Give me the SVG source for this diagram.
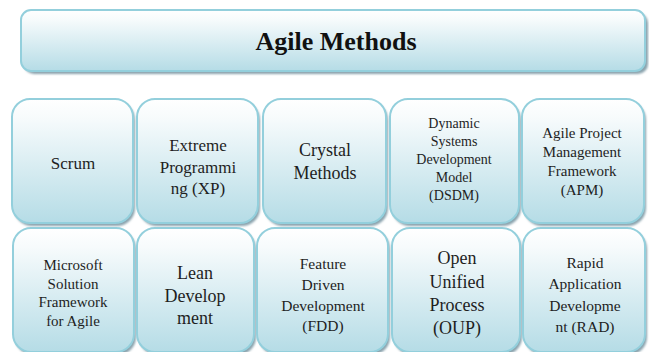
<svg xmlns="http://www.w3.org/2000/svg" width="649" height="352" viewBox="0 0 649 352">
<defs>
<linearGradient id="g" x1="0" y1="0" x2="0" y2="1">
<stop offset="0" stop-color="#ffffff"/>
<stop offset="0.15" stop-color="#f7fbfc"/>
<stop offset="1" stop-color="#b5dce6"/>
</linearGradient>
<filter id="blur" x="-5%" y="-5%" width="110%" height="115%"><feGaussianBlur stdDeviation="1"/></filter>
</defs>
<style>
.box{fill:url(#g);stroke:#93cfdc;stroke-width:2}
.sh{fill:#8aa3ad;filter:url(#blur)}
.t{fill:#1e1e1e;text-anchor:middle;font-family:"Liberation Serif","Times New Roman","DejaVu Serif",serif}
.title{font-family:"Liberation Serif","Times New Roman","DejaVu Serif",serif;font-weight:bold;font-size:26px;fill:#111;text-anchor:middle}
</style>
<rect width="649" height="352" fill="#ffffff"/>
<g id="title">
<rect class="sh" x="24" y="13" width="624" height="61" rx="10"/>
<rect class="box" x="21" y="10" width="624" height="61" rx="10"/>
<text class="title" x="336" y="50">Agile Methods</text>
</g>
<g id="connectors"></g>
<g id="scrum">
<rect class="sh" x="14" y="102" width="121" height="124" rx="18"/>
<rect class="box" x="12" y="99" width="121" height="124" rx="18"/>
<text class="t" font-size="17" x="73" y="169">Scrum</text>
</g>
<g id="xp">
<rect class="sh" x="139" y="102" width="121" height="124" rx="18"/>
<rect class="box" x="137" y="99" width="121" height="124" rx="18"/>
<text class="t" font-size="17"><tspan x="198" y="151">Extreme</tspan><tspan x="198" y="173">Programmi</tspan><tspan x="198" y="194">ng (XP)</tspan></text>
</g>
<g id="crystal">
<rect class="sh" x="265" y="102" width="123" height="124" rx="18"/>
<rect class="box" x="263" y="99" width="123" height="124" rx="18"/>
<text class="t" font-size="18"><tspan x="325" y="156">Crystal</tspan><tspan x="325" y="179">Methods</tspan></text>
</g>
<g id="dsdm">
<rect class="sh" x="392" y="102" width="129" height="124" rx="18"/>
<rect class="box" x="390" y="99" width="129" height="124" rx="18"/>
<text class="t" font-size="14"><tspan x="454" y="128">Dynamic</tspan><tspan x="454" y="146">Systems</tspan><tspan x="454" y="164">Development</tspan><tspan x="454" y="182">Model</tspan><tspan x="454" y="200">(DSDM)</tspan></text>
</g>
<g id="apm">
<rect class="sh" x="524" y="102" width="122" height="124" rx="18"/>
<rect class="box" x="522" y="99" width="122" height="124" rx="18"/>
<text class="t" font-size="15"><tspan x="582" y="138">Agile Project</tspan><tspan x="582" y="157">Management</tspan><tspan x="582" y="176">Framework</tspan><tspan x="582" y="195">(APM)</tspan></text>
</g>
<g id="msf">
<rect class="sh" x="15" y="231" width="121" height="124" rx="18"/>
<rect class="box" x="13" y="228" width="121" height="124" rx="18"/>
<text class="t" font-size="15"><tspan x="73" y="270">Microsoft</tspan><tspan x="73" y="288.5">Solution</tspan><tspan x="73" y="307">Framework</tspan><tspan x="73" y="325.5">for Agile</tspan></text>
</g>
<g id="lean">
<rect class="sh" x="139" y="231" width="117" height="124" rx="18"/>
<rect class="box" x="137" y="228" width="117" height="124" rx="18"/>
<text class="t" font-size="18"><tspan x="195" y="279">Lean</tspan><tspan x="195" y="302">Develop</tspan><tspan x="195" y="324">ment</tspan></text>
</g>
<g id="fdd">
<rect class="sh" x="259" y="231" width="131" height="124" rx="18"/>
<rect class="box" x="257" y="228" width="131" height="124" rx="18"/>
<text class="t" font-size="15.5"><tspan x="323" y="268.5">Feature</tspan><tspan x="323" y="289.5">Driven</tspan><tspan x="323" y="310.5">Development</tspan><tspan x="323" y="331">(FDD)</tspan></text>
</g>
<g id="oup">
<rect class="sh" x="394" y="231" width="128" height="124" rx="18"/>
<rect class="box" x="392" y="228" width="128" height="124" rx="18"/>
<text class="t" font-size="18"><tspan x="457" y="264">Open</tspan><tspan x="457" y="288">Unified</tspan><tspan x="457" y="311">Process</tspan><tspan x="457" y="334">(OUP)</tspan></text>
</g>
<g id="rad">
<rect class="sh" x="525" y="231" width="122" height="124" rx="18"/>
<rect class="box" x="523" y="228" width="122" height="124" rx="18"/>
<text class="t" font-size="15.5"><tspan x="585" y="267.5">Rapid</tspan><tspan x="585" y="289">Application</tspan><tspan x="585" y="310.5">Developme</tspan><tspan x="585" y="332">nt (RAD)</tspan></text>
</g>
</svg>
